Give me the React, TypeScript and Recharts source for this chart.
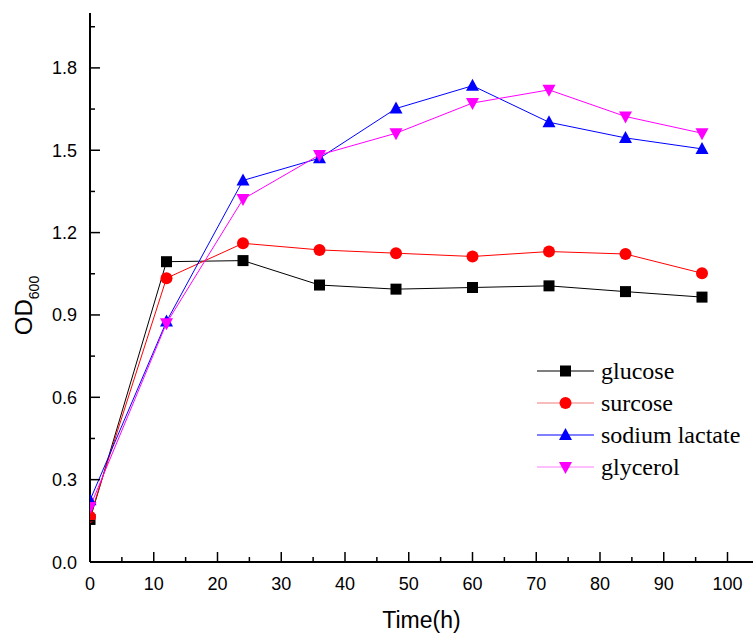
import { Label, Legend, Line, LineChart, XAxis, YAxis } from "recharts"

const hours = [0, 12, 24, 36, 48, 60, 72, 84, 96]
const glucose = [0.155, 1.094, 1.098, 1.009, 0.994, 1.0, 1.006, 0.985, 0.965]
const surcose = [0.165, 1.034, 1.161, 1.137, 1.125, 1.113, 1.131, 1.122, 1.052]
const sodiumLactate = [0.225, 0.876, 1.39, 1.471, 1.652, 1.735, 1.602, 1.545, 1.505]
const glycerol = [0.2, 0.87, 1.322, 1.483, 1.562, 1.672, 1.72, 1.623, 1.562]

const xTicks = [0, 5, 10, 15, 20, 25, 30, 35, 40, 45, 50, 55, 60, 65, 70, 75, 80, 85, 90, 95, 100]
const yTicks = [0, 0.15, 0.3, 0.45, 0.6, 0.75, 0.9, 1.05, 1.2, 1.35, 1.5, 1.65, 1.8, 1.95]

const series = [
  { key: "glucose", name: "glucose", color: "#000000", legendColor: "#000000", shape: "square" },
  { key: "surcose", name: "surcose", color: "#ff0000", legendColor: "#f27b7b", shape: "circle" },
  { key: "sodiumLactate", name: "sodium lactate", color: "#0000ff", legendColor: "#0000ff", shape: "up" },
  { key: "glycerol", name: "glycerol", color: "#ff00ff", legendColor: "#ff80ff", shape: "down" }
]

const rows = hours.map((h, i) => ({
  hour: h,
  glucose: glucose[i],
  surcose: surcose[i],
  sodiumLactate: sodiumLactate[i],
  glycerol: glycerol[i]
}))

const sans = '"Liberation Sans", Arial, sans-serif'
const serif = '"Liberation Serif", "Times New Roman", serif'

function Marker({ shape, cx, cy, color }: { shape: string; cx: number; cy: number; color: string }) {
  if (shape === "square") return <rect x={cx - 5.5} y={cy - 5.5} width={11} height={11} fill={color} />
  if (shape === "circle") return <circle cx={cx} cy={cy} r={6} fill={color} />
  if (shape === "up") return <polygon points={`${cx},${cy - 7} ${cx - 6.5},${cy + 5} ${cx + 6.5},${cy + 5}`} fill={color} />
  return <polygon points={`${cx - 6.5},${cy - 5} ${cx + 6.5},${cy - 5} ${cx},${cy + 7}`} fill={color} />
}

const dotFor = (shape: string, color: string) => (p: any) => (
  <Marker key={`${shape}-${p.index}`} shape={shape} cx={p.cx} cy={p.cy} color={color} />
)

function XTick(props: any) {
  const { x, y, payload } = props
  const major = payload.value % 10 === 0
  return (
    <g>
      <line x1={x} x2={x} y1={y} y2={y - (major ? 10 : 5)} stroke="#000" strokeWidth={1.5} />
      {major && (
        <text x={x} y={y + 28} textAnchor="middle" fontSize={18} fontFamily={sans} fill="#000">
          {payload.value}
        </text>
      )}
    </g>
  )
}

function YTick(props: any) {
  const { x, y, payload, index } = props
  const major = index % 2 === 0
  return (
    <g>
      <line x1={x} x2={x + (major ? 10 : 5)} y1={y} y2={y} stroke="#000" strokeWidth={1.5} />
      {major && (
        <text x={x - 13} y={y + 6.5} textAnchor="end" fontSize={18} fontFamily={sans} fill="#000">
          {Number(payload.value).toFixed(1)}
        </text>
      )}
    </g>
  )
}

function XTitle(props: any) {
  const vb = props.viewBox
  return (
    <text x={vb.x + vb.width / 2} y={vb.y + 66} textAnchor="middle" fontSize={23} fontFamily={sans} fill="#000">
      Time(h)
    </text>
  )
}

function YTitle(props: any) {
  const vb = props.viewBox
  const cx = vb.x + 2
  const cy = vb.y + vb.height / 2 + 18
  return (
    <text x={cx} y={cy} transform={`rotate(-90, ${cx}, ${cy})`} textAnchor="middle" fontFamily={sans} fill="#000">
      <tspan fontSize={24}>OD</tspan>
      <tspan fontSize={14} dy={7}>600</tspan>
    </text>
  )
}

function LegendBox() {
  return (
    <svg width={223} height={135}>
      {series.map((s, i) => {
        const cy = 19 + i * 32
        return (
          <g key={s.key}>
            <line x1={7} x2={64} y1={cy} y2={cy} stroke={s.legendColor} strokeWidth={1.2} />
            <Marker shape={s.shape} cx={35.5} cy={cy} color={s.color} />
            <text x={71} y={cy + 8} fontSize={24} fontFamily={serif} fill="#000">
              {s.name}
            </text>
          </g>
        )
      })}
    </svg>
  )
}

export default function App() {
  return (
    <div style={{ position: "absolute", left: 0, top: 0, width: 753, height: 635, background: "#fff" }}>
      <LineChart width={753} height={635} data={rows} margin={{ top: 13, right: 0, bottom: 13, left: 30 }}>
        <XAxis
          type="number"
          dataKey="hour"
          domain={[0, 104]}
          ticks={xTicks}
          interval={0}
          tickSize={0}
          tickMargin={0}
          tickLine={false}
          axisLine={{ stroke: "#000", strokeWidth: 2 }}
          height={60}
          tick={<XTick />}
          allowDataOverflow
        >
          <Label content={<XTitle />} />
        </XAxis>
        <YAxis
          type="number"
          domain={[0, 2]}
          ticks={yTicks}
          interval={0}
          tickSize={0}
          tickMargin={0}
          tickLine={false}
          axisLine={{ stroke: "#000", strokeWidth: 2 }}
          width={60}
          tick={<YTick />}
          allowDataOverflow
        >
          <Label content={<YTitle />} />
        </YAxis>
        <Legend
          layout="vertical"
          align="center"
          verticalAlign="middle"
          content={() => <LegendBox />}
          wrapperStyle={{ left: 530, top: 352, width: 223, height: 135 }}
        />
        {series.map((s) => (
          <Line
            key={s.key}
            type="linear"
            dataKey={s.key}
            name={s.name}
            stroke={s.color}
            strokeWidth={1}
            dot={dotFor(s.shape, s.color)}
            activeDot={false}
            isAnimationActive={false}
          />
        ))}
      </LineChart>
    </div>
  )
}
